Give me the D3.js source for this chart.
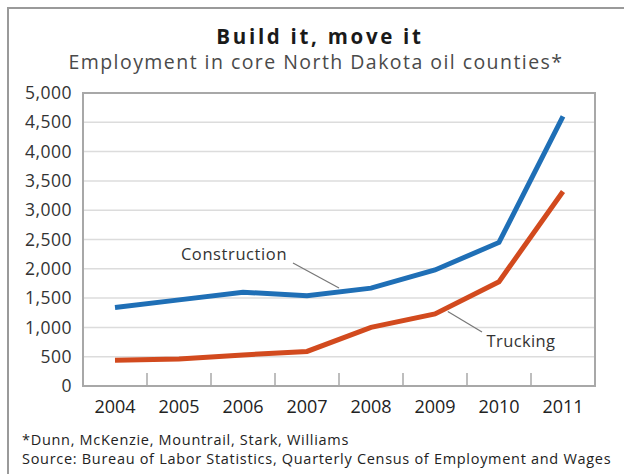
<!DOCTYPE html>
<html>
<head>
<meta charset="utf-8">
<script src="https://cdn.jsdelivr.net/npm/d3@7"></script>
<style>
  body { margin: 0; background: #fff; }
  svg text { font-family: 'Open Sans', sans-serif; }
</style>
</head>
<body>
<div id="chart"></div>
<script>
const years = ['2004', '2005', '2006', '2007', '2008', '2009', '2010', '2011']
const construction = [1340, 1470, 1600, 1540, 1670, 1980, 2450, 4600]
const trucking = [440, 460, 530, 590, 1000, 1230, 1780, 3320]
const yTicks = [0, 500, 1000, 1500, 2000, 2500, 3000, 3500, 4000, 4500, 5000]

const fullWidth = 624,
  fullHeight = 474,
  margin = { top: 93, right: 29, bottom: 88, left: 83 },
  width = fullWidth - margin.left - margin.right,
  height = fullHeight - margin.top - margin.bottom

const svg = d3.select('#chart')
  .append('svg')
  .attr('width', fullWidth)
  .attr('height', fullHeight)

// outer frame (runs off the right and bottom edges)
svg.append('rect')
  .attr('x', 8).attr('y', 8)
  .attr('width', 640).attr('height', 500)
  .attr('fill', 'none')
  .attr('stroke', '#9a9a9a')
  .attr('stroke-width', 2)

svg.append('text')
  .attr('x', 320).attr('y', 44)
  .attr('text-anchor', 'middle')
  .style('font-size', '20.5px')
  .style('font-weight', 'bold')
  .style('letter-spacing', '2.7px')
  .style('fill', '#1a1a1a')
  .text('Build it, move it')

svg.append('text')
  .attr('x', 316).attr('y', 69)
  .attr('text-anchor', 'middle')
  .style('font-size', '19.5px')
  .style('letter-spacing', '1.45px')
  .style('fill', '#4a4a4a')
  .text('Employment in core North Dakota oil counties*')

const g = svg.append('g')
  .attr('transform', `translate(${margin.left}, ${margin.top})`)

const x = d3.scaleBand()
  .domain(years)
  .range([0, width])

const y = d3.scaleLinear()
  .domain([0, 5000])
  .range([height, 0])

// gridlines
g.selectAll('.grid')
  .data(yTicks.filter(d => d > 0 && d < 5000))
  .enter()
  .append('line')
  .attr('class', 'grid')
  .attr('x1', 0).attr('x2', width)
  .attr('y1', d => y(d)).attr('y2', d => y(d))
  .attr('stroke', '#dcdcdc')
  .attr('stroke-width', 1.5)

// plot frame
g.append('rect')
  .attr('width', width).attr('height', height)
  .attr('fill', 'none')
  .attr('stroke', '#a8a8a8')
  .attr('stroke-width', 2)

// y axis labels
const yAxis = g.append('g')
  .call(d3.axisLeft(y).tickValues(yTicks).tickFormat(d3.format(',')).tickSize(0).tickPadding(11))
yAxis.select('.domain').remove()
yAxis.selectAll('text')
  .style('font-size', '17.5px')
  .style('letter-spacing', '0.5px')
  .style('fill', '#333')

// x axis: ticks between bands, pointing up
const xAxis = g.append('g')
  .attr('transform', `translate(0, ${height})`)
  .call(d3.axisBottom(x).tickSize(0).tickPadding(14))
xAxis.select('.domain').remove()
xAxis.selectAll('text')
  .style('font-size', '18px')
  .style('fill', '#222')

g.selectAll('.xtick')
  .data(years.slice(1))
  .enter()
  .append('line')
  .attr('class', 'xtick')
  .attr('x1', d => x(d)).attr('x2', d => x(d))
  .attr('y1', height).attr('y2', height - 13)
  .attr('stroke', '#a8a8a8')
  .attr('stroke-width', 1.5)

const line = d3.line()
  .x((d, i) => x(years[i]) + x.bandwidth() / 2)
  .y(d => y(d))

g.append('path')
  .datum(trucking)
  .attr('d', line)
  .attr('fill', 'none')
  .attr('stroke', '#d24a1e')
  .attr('stroke-width', 5)

g.append('path')
  .datum(construction)
  .attr('d', line)
  .attr('fill', 'none')
  .attr('stroke', '#1f6fb6')
  .attr('stroke-width', 5)

// labels with leader lines
const mid = (a, b, t) => a + (b - a) * t
const cx = (i) => x(years[i]) + x.bandwidth() / 2

g.append('line')
  .attr('x1', 210).attr('y1', 170)
  .attr('x2', mid(cx(3), cx(4), 0.5)).attr('y2', y(mid(construction[3], construction[4], 0.5)) - 4)
  .attr('stroke', '#777').attr('stroke-width', 1.2)

g.append('text')
  .attr('x', 151).attr('y', 167)
  .attr('text-anchor', 'middle')
  .style('font-size', '16.5px')
  .style('letter-spacing', '0.6px')
  .style('fill', '#333')
  .text('Construction')

g.append('line')
  .attr('x1', mid(cx(5), cx(6), 0.2)).attr('y1', y(mid(trucking[5], trucking[6], 0.2)) + 4)
  .attr('x2', 399).attr('y2', 239)
  .attr('stroke', '#777').attr('stroke-width', 1.2)

g.append('text')
  .attr('x', 438).attr('y', 254)
  .attr('text-anchor', 'middle')
  .style('font-size', '16.5px')
  .style('letter-spacing', '0.4px')
  .style('fill', '#333')
  .text('Trucking')

// footnotes
svg.append('text')
  .attr('x', 22).attr('y', 445)
  .style('font-size', '14.5px')
  .style('letter-spacing', '0.7px')
  .style('fill', '#222')
  .text('*Dunn, McKenzie, Mountrail, Stark, Williams')

svg.append('text')
  .attr('x', 22).attr('y', 464)
  .style('font-size', '14.5px')
  .style('letter-spacing', '0.7px')
  .style('fill', '#222')
  .text('Source: Bureau of Labor Statistics, Quarterly Census of Employment and Wages')
</script>
</body>
</html>
